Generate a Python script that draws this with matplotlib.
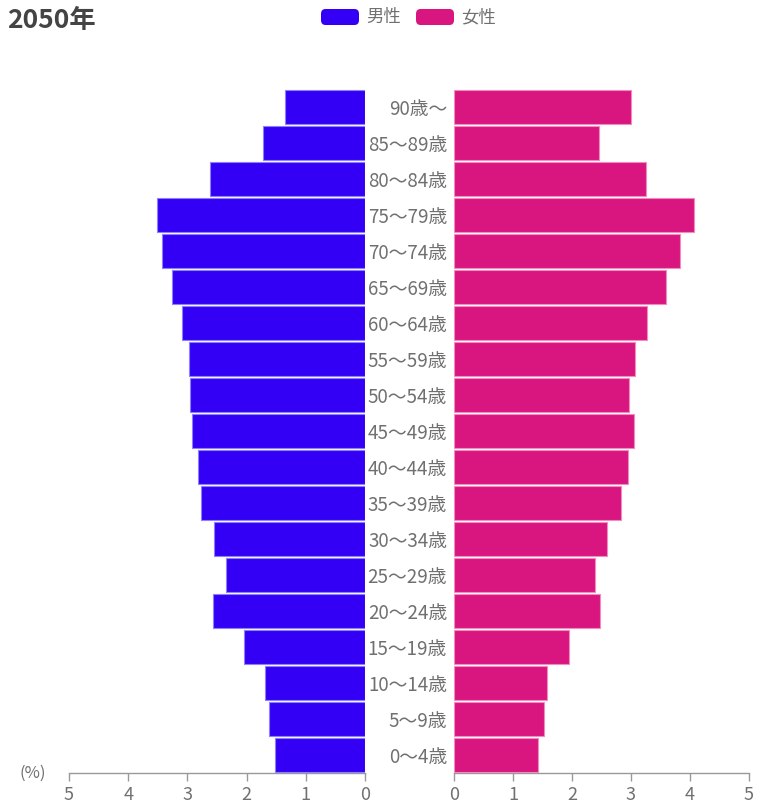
import matplotlib
matplotlib.use('Agg')
import matplotlib.pyplot as plt
from matplotlib.patches import FancyBboxPatch

plt.rcParams['font.family'] = ['Noto Sans CJK JP', 'DejaVu Sans']

# Age groups, bottom to top
ages = ['0～4歳', '5～9歳', '10～14歳', '15～19歳', '20～24歳', '25～29歳',
        '30～34歳', '35～39歳', '40～44歳', '45～49歳', '50～54歳', '55～59歳',
        '60～64歳', '65～69歳', '70～74歳', '75～79歳', '80～84歳', '85～89歳',
        '90歳～']
male = [1.52, 1.62, 1.69, 2.04, 2.57, 2.35, 2.55, 2.77, 2.82, 2.92,
        2.96, 2.97, 3.09, 3.26, 3.43, 3.51, 2.62, 1.72, 1.35]
female = [1.42, 1.53, 1.58, 1.95, 2.47, 2.39, 2.59, 2.83, 2.95, 3.05,
          2.97, 3.07, 3.27, 3.59, 3.83, 4.07, 3.25, 2.46, 3.00]
ticks = [0, 1, 2, 3, 4, 5]

male_color = '#3300F5'
female_color = '#D9157F'
gray = '#707070'
axis_gray = '#999999'

W, H = 760, 806
fig = plt.figure(figsize=(W / 100, H / 100), dpi=100)
fig.patch.set_facecolor('white')

bottom = 1 - 773 / H
height = (773 - 89) / H
ax_l = fig.add_axes([69 / W, bottom, (365 - 69) / W, height])
ax_r = fig.add_axes([454 / W, bottom, (749 - 454) / W, height])

y = range(len(ages))
ax_l.barh(y, male, height=0.94, color=male_color, edgecolor='#8c80ff', linewidth=0.8, zorder=3)
ax_r.barh(y, female, height=0.94, color=female_color, edgecolor='#f08cc0', linewidth=0.8, zorder=3)

ax_l.set_xlim(5, 0)
ax_r.set_xlim(0, 5)
for ax in (ax_l, ax_r):
    ax.set_ylim(-0.5, len(ages) - 0.5)
    ax.set_xticks(ticks)
    ax.set_xticklabels([str(t) for t in ticks], fontsize=13, color=gray)
    ax.tick_params(axis='x', direction='out', length=6, width=1, color=axis_gray, pad=3)
    for s in ('top', 'right', 'left'):
        ax.spines[s].set_visible(False)
    ax.spines['bottom'].set_color(axis_gray)
    ax.spines['bottom'].set_linewidth(1)
    ax.set_facecolor('none')

ax_l.set_yticks([])
ax_r.set_yticks(list(y))
ax_r.set_yticklabels(ages, fontsize=13.5, color=gray, ha='right')
ax_r.tick_params(axis='y', length=0, pad=5)

# Title
fig.text(7 / W, 1 - 20 / H, '2050年', fontsize=19, fontweight='bold',
         color='#444444', ha='left', va='center')

# Unit label
fig.text(33 / W, 1 - 773 / H, '(%)', fontsize=12, color=gray, ha='center', va='center')

# Legend
for x0, col, lab in [(321, male_color, '男性'), (416, female_color, '女性')]:
    box = FancyBboxPatch((x0 / W, 1 - 25 / H), 38 / W, 16 / H,
                         boxstyle='round,pad=0,rounding_size=0.006',
                         transform=fig.transFigure, facecolor=col,
                         edgecolor='none', figure=fig)
    fig.patches.append(box)
    fig.text((x0 + 45) / W, 1 - 17 / H, lab, fontsize=12.5, color=gray,
             ha='left', va='center')

plt.savefig('out.png', dpi=100, facecolor='white')
plt.close()
